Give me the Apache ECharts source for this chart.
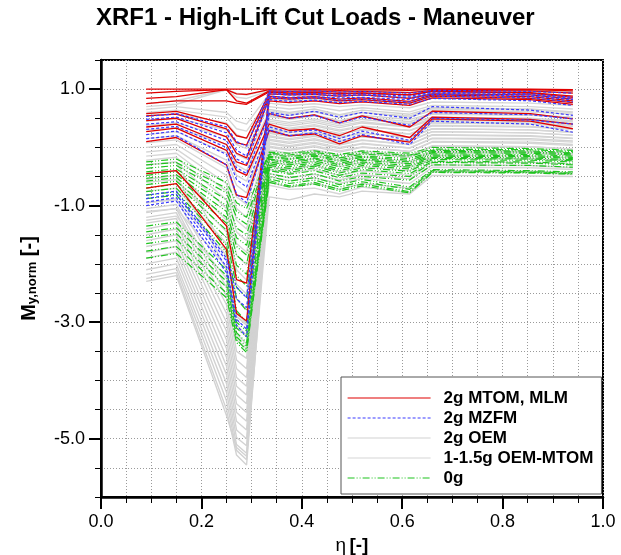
<!DOCTYPE html>
<html>
<head>
<meta charset="utf-8">
<script src="https://cdn.jsdelivr.net/npm/echarts@6/dist/echarts.min.js"></script>
<style>
  html, body { margin: 0; padding: 0; background: #fff; }
  #chart { width: 621px; height: 555px; }
</style>
</head>
<body>
<div id="chart"></div>
<script>
// Spanwise stations (eta) at which the cut loads are evaluated
const eta = [0.09, 0.15, 0.25, 0.27, 0.29, 0.335, 0.375, 0.425, 0.475, 0.52, 0.615, 0.66, 0.855, 0.94];

// 2g MTOM, MLM
const red = [
  [1.00, 1.00, 1.00, 1.00, 1.00, 1.00, 1.00, 1.00, 1.00, 1.00, 1.00, 1.00, 1.00, 0.99],
  [0.93, 0.96, 0.99, 0.92, 0.91, 0.99, 0.99, 0.99, 0.98, 0.99, 0.98, 1.00, 0.99, 0.97],
  [0.84, 0.87, 0.99, 0.80, 0.76, 0.97, 0.96, 0.97, 0.95, 0.96, 0.94, 0.98, 0.97, 0.93],
  [0.75, 0.80, 0.80, 0.76, 0.74, 0.95, 0.93, 0.94, 0.92, 0.93, 0.90, 0.96, 0.94, 0.88],
  [0.58, 0.62, 0.40, 0.20, 0.16, 0.92, 0.90, 0.91, 0.88, 0.90, 0.84, 0.92, 0.90, 0.83],
  [0.54, 0.57, 0.32, 0.08, 0.04, 0.88, 0.85, 0.87, 0.83, 0.85, 0.79, 0.90, 0.87, 0.80],
  [0.46, 0.50, 0.18, -0.10, -0.18, 0.85, 0.83, 0.85, 0.80, 0.82, 0.76, 0.88, 0.84, 0.77],
  [0.35, 0.40, 0.05, -0.25, -0.31, 0.58, 0.50, 0.56, 0.42, 0.54, 0.35, 0.62, 0.58, 0.49],
  [0.27, 0.33, -0.05, -0.40, -0.48, 0.40, 0.29, 0.32, 0.20, 0.35, 0.17, 0.52, 0.48, 0.40],
  [0.10, 0.17, -0.30, -0.82, -0.86, 0.29, 0.20, 0.23, 0.06, 0.20, 0.09, 0.49, 0.45, 0.32],
  [-0.45, -0.40, -1.35, -2.27, -2.33, 0.80, 0.77, 0.80, 0.75, 0.78, 0.72, 0.85, 0.82, 0.74],
  [-0.70, -0.62, -1.75, -2.85, -2.98, 0.95, 0.93, 0.94, 0.92, 0.93, 0.90, 0.96, 0.93, 0.86]
];

// 2g MZFM
const blue = [
  [0.53, 0.58, 0.35, 0.10, 0.02, 0.97, 0.96, 0.97, 0.95, 0.96, 0.93, 0.98, 0.96, 0.93],
  [0.48, 0.52, 0.25, -0.05, -0.15, 0.92, 0.90, 0.91, 0.88, 0.90, 0.85, 0.93, 0.90, 0.84],
  [0.40, 0.44, 0.12, -0.20, -0.28, 0.86, 0.83, 0.85, 0.81, 0.83, 0.78, 0.88, 0.85, 0.78],
  [0.31, 0.36, 0.00, -0.35, -0.45, 0.58, 0.50, 0.55, 0.42, 0.52, 0.38, 0.60, 0.56, 0.49],
  [0.22, 0.28, -0.12, -0.55, -0.68, 0.35, 0.26, 0.30, 0.15, 0.28, 0.12, 0.50, 0.47, 0.40],
  [0.15, 0.20, -0.30, -0.80, -0.95, 0.30, 0.20, 0.25, 0.10, 0.22, 0.05, 0.45, 0.40, 0.26],
  [-0.82, -0.75, -1.90, -2.40, -2.58, 0.88, 0.86, 0.87, 0.85, 0.86, 0.82, 0.91, 0.88, 0.82],
  [-0.94, -0.86, -2.05, -2.95, -3.12, 0.94, 0.92, 0.93, 0.91, 0.92, 0.88, 0.95, 0.92, 0.86],
  [-1.00, -0.92, -2.15, -3.05, -3.25, 0.82, 0.79, 0.81, 0.77, 0.79, 0.74, 0.84, 0.80, 0.72],
  [-0.88, -0.80, -1.95, -2.60, -2.75, 0.60, 0.55, 0.62, 0.52, 0.60, 0.50, 0.70, 0.64, 0.55]
];

// 2g OEM
const oem2g = [
  [-0.30, -0.25, -1.80, -2.90, -3.05, 0.65, 0.60, 0.66, 0.56, 0.64, 0.57, 0.68, 0.66, 0.61],
  [-0.55, -0.48, -2.10, -3.10, -3.25, 0.60, 0.55, 0.61, 0.51, 0.60, 0.52, 0.63, 0.61, 0.57],
  [-0.95, -0.88, -2.40, -3.30, -3.45, 0.55, 0.50, 0.56, 0.46, 0.55, 0.48, 0.58, 0.56, 0.52],
  [-1.05, -0.98, -2.55, -3.50, -3.62, 0.48, 0.43, 0.49, 0.40, 0.48, 0.41, 0.52, 0.50, 0.46],
  [-1.12, -1.05, -2.70, -3.65, -3.80, 0.42, 0.37, 0.43, 0.34, 0.42, 0.35, 0.47, 0.45, 0.41],
  [-1.20, -1.12, -2.85, -3.80, -3.95, 0.36, 0.31, 0.37, 0.28, 0.36, 0.29, 0.42, 0.40, 0.36],
  [-1.30, -1.22, -3.00, -3.95, -4.10, 0.30, 0.25, 0.31, 0.22, 0.30, 0.23, 0.37, 0.35, 0.31],
  [-1.40, -1.30, -3.15, -4.10, -4.25, 0.24, 0.19, 0.25, 0.16, 0.24, 0.17, 0.32, 0.30, 0.26],
  [-1.50, -1.40, -3.30, -4.25, -4.40, 0.18, 0.13, 0.19, 0.10, 0.18, 0.11, 0.27, 0.25, 0.21],
  [-1.60, -1.50, -3.45, -4.40, -4.55, 0.12, 0.07, 0.13, 0.04, 0.12, 0.05, 0.22, 0.20, 0.16],
  [-1.70, -1.60, -3.60, -4.55, -4.70, 0.06, 0.01, 0.07, -0.02, 0.06, -0.01, 0.16, 0.15, 0.11],
  [-1.80, -1.70, -3.75, -4.70, -4.85, 0.00, -0.05, 0.01, -0.08, 0.00, -0.07, 0.10, 0.09, 0.05],
  [-1.90, -1.80, -3.90, -4.85, -5.00, -0.10, -0.15, -0.09, -0.18, -0.10, -0.17, 0.02, 0.01, -0.03],
  [-2.00, -1.90, -4.05, -4.98, -5.12, -0.20, -0.26, -0.19, -0.29, -0.21, -0.28, -0.08, -0.09, -0.13],
  [-2.10, -2.00, -4.20, -5.10, -5.25, -0.32, -0.38, -0.31, -0.42, -0.33, -0.40, -0.18, -0.19, -0.23],
  [-2.18, -2.08, -4.35, -5.20, -5.36, -0.45, -0.52, -0.46, -0.56, -0.47, -0.54, -0.30, -0.31, -0.35],
  [-2.25, -2.15, -4.50, -5.28, -5.45, -0.60, -0.68, -0.62, -0.72, -0.62, -0.70, -0.40, -0.41, -0.44],
  [-2.30, -2.20, -4.60, -5.15, -5.30, -0.85, -0.90, -0.80, -0.85, -0.75, -0.80, -0.48, -0.49, -0.50]
];

// 1-1.5g OEM-MTOM
const oemMtom = [
  [0.75, 0.80, 0.99, 0.93, 0.90, 0.99, 0.98, 0.99, 0.97, 0.98, 0.97, 0.99, 0.98, 0.96],
  [0.70, 0.74, 0.99, 0.86, 0.84, 0.97, 0.96, 0.97, 0.95, 0.96, 0.94, 0.97, 0.96, 0.94],
  [0.65, 0.70, 0.60, 0.45, 0.40, 0.92, 0.90, 0.91, 0.88, 0.90, 0.86, 0.93, 0.91, 0.88],
  [0.60, 0.64, 0.52, 0.32, 0.28, 0.83, 0.80, 0.82, 0.78, 0.80, 0.76, 0.85, 0.83, 0.79],
  [0.55, 0.58, 0.42, 0.22, 0.15, 0.76, 0.72, 0.75, 0.70, 0.73, 0.68, 0.78, 0.76, 0.72],
  [0.45, 0.50, 0.30, 0.05, -0.02, 0.70, 0.66, 0.70, 0.63, 0.68, 0.61, 0.72, 0.70, 0.66],
  [0.38, 0.42, 0.18, -0.12, -0.20, 0.62, 0.58, 0.62, 0.55, 0.60, 0.54, 0.66, 0.64, 0.60],
  [0.30, 0.34, 0.05, -0.30, -0.40, 0.53, 0.48, 0.54, 0.45, 0.52, 0.44, 0.57, 0.55, 0.51],
  [0.22, 0.27, -0.10, -0.48, -0.58, 0.45, 0.40, 0.46, 0.37, 0.44, 0.36, 0.50, 0.48, 0.44],
  [0.15, 0.20, -0.22, -0.65, -0.78, 0.38, 0.33, 0.39, 0.30, 0.37, 0.29, 0.44, 0.42, 0.38],
  [0.08, 0.13, -0.35, -0.85, -0.98, 0.32, 0.27, 0.33, 0.24, 0.31, 0.23, 0.38, 0.36, 0.32],
  [0.00, 0.05, -0.48, -1.05, -1.20, 0.26, 0.21, 0.27, 0.18, 0.25, 0.17, 0.32, 0.30, 0.26],
  [-0.08, -0.03, -0.62, -1.25, -1.40, 0.20, 0.15, 0.21, 0.12, 0.19, 0.11, 0.27, 0.25, 0.21],
  [-0.15, -0.10, -0.75, -1.45, -1.60, 0.14, 0.09, 0.15, 0.06, 0.13, 0.05, 0.21, 0.19, 0.15],
  [-0.22, -0.17, -0.90, -1.65, -1.80, 0.08, 0.03, 0.09, 0.00, 0.07, -0.01, 0.15, 0.13, 0.09],
  [-0.30, -0.25, -1.05, -1.85, -2.02, 0.02, -0.03, 0.03, -0.06, 0.01, -0.07, 0.09, 0.07, 0.03],
  [-0.45, -0.40, -1.25, -2.10, -2.28, -0.05, -0.10, -0.04, -0.13, -0.06, -0.14, 0.03, 0.01, -0.03],
  [-0.60, -0.55, -1.45, -2.35, -2.52, -0.15, -0.20, -0.14, -0.23, -0.16, -0.24, -0.05, -0.07, -0.10],
  [-0.75, -0.70, -1.65, -2.60, -2.78, -0.25, -0.30, -0.24, -0.33, -0.26, -0.34, -0.14, -0.15, -0.18],
  [-0.95, -0.90, -1.85, -2.85, -3.02, -0.38, -0.44, -0.38, -0.48, -0.40, -0.48, -0.25, -0.26, -0.29],
  [-1.10, -1.05, -2.05, -3.05, -3.22, -0.50, -0.57, -0.52, -0.62, -0.53, -0.62, -0.34, -0.35, -0.38],
  [-1.25, -1.18, -2.25, -3.20, -3.38, -0.65, -0.72, -0.70, -0.80, -0.68, -0.78, -0.42, -0.43, -0.46]
];

// 0g
const zeroG = [
  [-0.25, -0.20, -0.60, -0.95, -1.05, -0.08, -0.10, -0.06, -0.12, -0.06, -0.10, 0.00, -0.02, -0.05],
  [-0.30, -0.26, -0.70, -1.10, -1.20, -0.10, -0.13, -0.08, -0.15, -0.09, -0.13, -0.03, -0.04, -0.07],
  [-0.36, -0.31, -0.78, -1.20, -1.32, -0.12, -0.16, -0.11, -0.18, -0.12, -0.15, -0.05, -0.06, -0.09],
  [-0.42, -0.37, -0.90, -1.38, -1.50, -0.15, -0.19, -0.13, -0.21, -0.15, -0.19, -0.07, -0.08, -0.11],
  [-0.48, -0.42, -1.00, -1.55, -1.68, -0.17, -0.21, -0.15, -0.24, -0.17, -0.22, -0.09, -0.10, -0.13],
  [-0.53, -0.47, -1.10, -1.70, -1.85, -0.20, -0.24, -0.18, -0.27, -0.20, -0.25, -0.11, -0.12, -0.15],
  [-0.58, -0.52, -1.20, -1.85, -2.00, -0.22, -0.27, -0.20, -0.30, -0.22, -0.28, -0.13, -0.14, -0.17],
  [-0.64, -0.58, -1.30, -2.02, -2.18, -0.25, -0.30, -0.23, -0.33, -0.25, -0.31, -0.15, -0.16, -0.19],
  [-0.70, -0.63, -1.42, -2.20, -2.38, -0.28, -0.33, -0.26, -0.37, -0.28, -0.34, -0.17, -0.18, -0.21],
  [-0.76, -0.70, -1.55, -2.40, -2.58, -0.31, -0.36, -0.29, -0.40, -0.31, -0.37, -0.19, -0.20, -0.23],
  [-0.82, -0.76, -1.68, -2.60, -2.80, -0.34, -0.40, -0.32, -0.44, -0.35, -0.41, -0.21, -0.22, -0.25],
  [-0.88, -0.82, -1.80, -2.80, -3.00, -0.37, -0.43, -0.35, -0.48, -0.38, -0.45, -0.24, -0.25, -0.28],
  [-1.35, -1.28, -2.10, -3.00, -3.15, -0.50, -0.58, -0.52, -0.64, -0.55, -0.68, -0.38, -0.40, -0.42],
  [-1.45, -1.38, -2.20, -3.10, -3.25, -0.54, -0.62, -0.56, -0.68, -0.59, -0.72, -0.40, -0.42, -0.44],
  [-1.55, -1.48, -2.30, -3.18, -3.35, -0.57, -0.66, -0.60, -0.72, -0.63, -0.76, -0.42, -0.43, -0.45],
  [-1.65, -1.58, -2.40, -3.25, -3.42, -0.60, -0.68, -0.63, -0.75, -0.66, -0.78, -0.43, -0.44, -0.46],
  [-1.78, -1.70, -2.50, -3.30, -3.48, -0.40, -0.46, -0.40, -0.52, -0.44, -0.50, -0.26, -0.27, -0.30],
  [-1.90, -1.82, -2.58, -3.35, -3.52, -0.45, -0.52, -0.45, -0.58, -0.50, -0.56, -0.30, -0.31, -0.34]
];

// Axis tick values
const xMajor = [0, 0.2, 0.4, 0.6, 0.8, 1.0];
const yMajor = [-5, -3, -1, 1];

const FONT = 'Liberation Sans, Arial, Helvetica, sans-serif';

const groups = [
  { name: '2g OEM', rows: oem2g, color: '#d2d2d2', width: 1.4, type: 'solid' },
  { name: '1-1.5g OEM-MTOM', rows: oemMtom, color: '#d6d6d6', width: 1.4, type: 'solid' },
  { name: '0g', rows: zeroG, color: '#1fc41f', width: 1.2, type: [7, 2, 1, 2, 1, 2] },
  { name: '2g MTOM, MLM', rows: red, color: '#e00000', width: 1.3, type: 'solid' },
  { name: '2g MZFM', rows: blue, color: '#3a3aff', width: 1.2, type: [3, 2] }
];

const series = [];
groups.forEach(function (g, gi) {
  g.rows.forEach(function (row) {
    series.push({
      type: 'line',
      name: g.name,
      xAxisIndex: 0,
      yAxisIndex: 0,
      data: eta.map(function (e, i) { return [e, row[i]]; }),
      symbol: 'none',
      silent: true,
      animation: false,
      z: 2 + gi,
      itemStyle: { color: g.color },
      lineStyle: { color: g.color, width: g.width, type: g.type }
    });
  });
});

const chart = echarts.init(document.getElementById('chart'), null, { renderer: 'canvas' });
chart.setOption({
  backgroundColor: '#fff',
  animation: false,
  title: {
    text: 'XRF1 - High-Lift Cut Loads - Maneuver',
    left: 96,
    top: 6,
    padding: 0,
    textStyle: { fontFamily: FONT, fontSize: 24, fontWeight: 'bold', color: '#000' }
  },
  grid: {
    left: 101, right: 18, top: 60, bottom: 58,
    containLabel: false,
    outerBoundsMode: 'none',
    show: true, borderColor: '#000', borderWidth: 2, backgroundColor: 'transparent'
  },
  legend: {
    orient: 'vertical',
    left: 341,
    top: 377,
    data: ['2g MTOM, MLM', '2g MZFM', '2g OEM', '1-1.5g OEM-MTOM', '0g'],
    selectedMode: false,
    backgroundColor: '#fff',
    borderColor: '#555',
    borderWidth: 1,
    padding: [12, 8, 7, 6],
    itemGap: 2,
    itemWidth: 83,
    itemHeight: 14,
    itemStyle: { opacity: 0 },
    lineStyle: { width: 1.2 },
    textStyle: { fontFamily: FONT, fontSize: 17, fontWeight: 'bold', color: '#000', lineHeight: 18, padding: [0, 0, 0, 8] }
  },
  xAxis: [
    {
      type: 'value', min: 0, max: 1, interval: 0.05, position: 'bottom',
      name: '{e|η} {b|[-]}',
      nameLocation: 'middle',
      nameGap: 38,
      nameTextStyle: {
        rich: {
          e: { fontFamily: FONT, fontSize: 19, color: '#000' },
          b: { fontFamily: FONT, fontSize: 19, fontWeight: 'bold', color: '#000' }
        }
      },
      axisLine: { show: true, onZero: false, lineStyle: { color: '#000', width: 2.5 } },
      axisTick: { show: true, customValues: xMajor, length: 12, lineStyle: { color: '#000', width: 2 } },
      axisLabel: {
        customValues: xMajor, margin: 16, fontFamily: FONT, fontSize: 18, color: '#000',
        formatter: function (v) { return v.toFixed(1); }
      },
      splitLine: { show: false }
    },
    {
      type: 'value', min: 0, max: 1, interval: 0.05, position: 'bottom',
      axisLine: { show: false, onZero: false },
      axisTick: { show: true, length: 6, lineStyle: { color: '#000', width: 1 } },
      axisLabel: { show: false },
      splitLine: { show: true, lineStyle: { color: '#9a9a9a', width: 1, type: [1, 2] } }
    }
  ],
  yAxis: [
    {
      type: 'value', min: -6, max: 1.5, interval: 0.5, position: 'left',
      name: '{m|M}{s|y,norm}{m| [-]}',
      nameLocation: 'middle',
      nameRotate: 90,
      nameGap: 62,
      nameTextStyle: {
        rich: {
          m: { fontFamily: FONT, fontSize: 20, fontWeight: 'bold', color: '#000', verticalAlign: 'middle' },
          s: { fontFamily: FONT, fontSize: 13, fontWeight: 'bold', color: '#000', verticalAlign: 'bottom' }
        }
      },
      axisLine: { show: true, onZero: false, lineStyle: { color: '#000', width: 2.5 } },
      axisTick: { show: true, customValues: yMajor, length: 12, lineStyle: { color: '#000', width: 2 } },
      axisLabel: {
        customValues: yMajor, margin: 16, fontFamily: FONT, fontSize: 18, color: '#000',
        formatter: function (v) { return v.toFixed(1); }
      },
      splitLine: { show: false }
    },
    {
      type: 'value', min: -6, max: 1.5, interval: 0.5, position: 'left',
      axisLine: { show: false, onZero: false },
      axisTick: { show: true, length: 6, lineStyle: { color: '#000', width: 1 } },
      axisLabel: { show: false },
      splitLine: { show: true, lineStyle: { color: '#9a9a9a', width: 1, type: [1, 2] } }
    }
  ],
  series: series
});
</script>
</body>
</html>
